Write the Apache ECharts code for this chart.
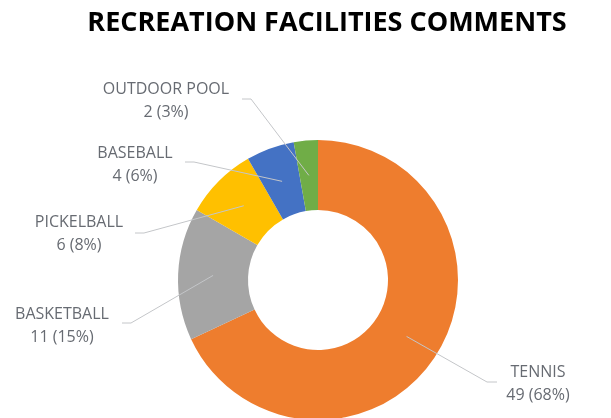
<!DOCTYPE html>
<html>
<head>
<meta charset="utf-8">
<script src="https://cdn.jsdelivr.net/npm/echarts@6/dist/echarts.min.js"></script>
<style>
html,body{margin:0;padding:0;background:#fff;}
#chart{width:611px;height:418px;}
</style>
</head>
<body>
<div id="chart"></div>
<script>
const categories = ['TENNIS', 'BASKETBALL', 'PICKELBALL', 'BASEBALL', 'OUTDOOR POOL'];
const values = [49, 11, 6, 4, 2];
const colors = ['#EE7D2E', '#A5A5A5', '#FFC000', '#4472C4', '#70AD47'];

// layout: label block centres and leader line text-side ends (px)
const labelCenters = [[538, 384], [62, 326], [79, 234], [135, 165], [166, 101]];
const lineEnds = [[497, 382], [122, 323], [135, 233], [185, 162], [242, 99]];
const CX = 318, CY = 280, R_IN = 70, R_OUT = 140;

const total = values.reduce((a, b) => a + b, 0);
const midAngles = [];
let acc = 0;
values.forEach(v => { midAngles.push((acc + v / 2) / total * 2 * Math.PI); acc += v; });

const pieData = categories.map((c, i) => ({ name: c, value: values[i], itemStyle: { color: colors[i] } }));
const base = {
  type: 'pie',
  center: [CX, CY],
  radius: [R_IN, R_OUT],
  startAngle: 90,
  clockwise: true,
  avoidLabelOverlap: false,
  silent: true
};

const chart = echarts.init(document.getElementById('chart'));
chart.setOption({
  animation: false,
  title: {
    text: 'RECREATION FACILITIES COMMENTS',
    left: 322, top: 5, textAlign: 'center',
    textStyle: { fontFamily: 'Open Sans', fontWeight: 'bold', fontSize: 27, color: '#000' }
  },
  series: [
    Object.assign({}, base, {
      z: 2,
      data: pieData,
      itemStyle: { borderWidth: 0 },
      label: { show: false },
      labelLine: { show: false }
    }),
    Object.assign({}, base, {
      z: 3,
      data: categories.map((c, i) => ({ name: c, value: values[i] })),
      itemStyle: { color: 'rgba(0,0,0,0)', borderWidth: 0 },
      label: {
        show: true,
        position: 'outside',
        fontFamily: 'Open Sans',
        fontSize: 16,
        lineHeight: 23,
        color: '#676b72',
        align: 'center',
        formatter: p => p.name + '\n' + p.value + ' (' + Math.round(p.value / total * 100) + '%)'
      },
      labelLine: { show: true, showAbove: true, lineStyle: { color: '#C4C6C9', width: 1 } },
      labelLayout: function (params) {
        const i = params.dataIndex;
        const a = midAngles[i];
        const rm = (R_IN + R_OUT) / 2;
        const sx = CX + rm * Math.sin(a), sy = CY - rm * Math.cos(a);
        const e = lineEnds[i];
        const knee = [e[0] + (e[0] < CX ? 9 : -10), e[1]];
        return {
          x: labelCenters[i][0], y: labelCenters[i][1],
          align: 'center', verticalAlign: 'middle',
          labelLinePoints: [[sx, sy], knee, e]
        };
      }
    })
  ]
});
</script>
</body>
</html>
